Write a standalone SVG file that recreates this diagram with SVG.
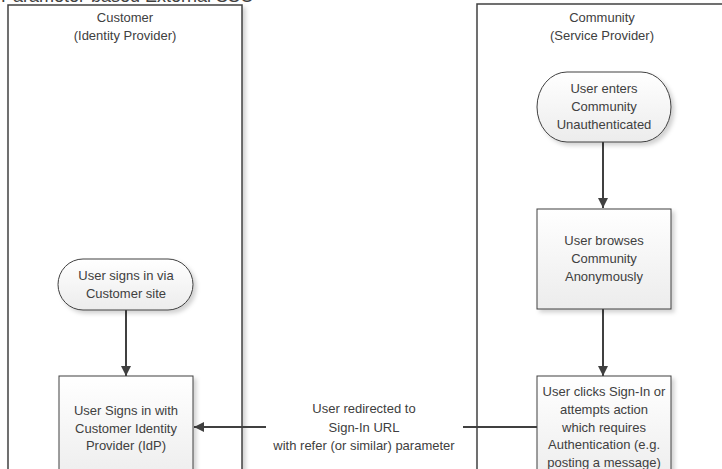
<svg xmlns="http://www.w3.org/2000/svg" width="722" height="469" viewBox="0 0 722 469">
<style>
text{font-family:"Liberation Sans",Arial,sans-serif;font-size:13px;fill:#404040;text-anchor:middle}
.lane{fill:#fff;stroke:#404040;stroke-width:1.5;filter:url(#sh)}
.node{fill:url(#g);stroke:#404040;stroke-width:1;filter:url(#sh)}
.conn{stroke:#404040;stroke-width:2;fill:none}
</style>
<defs>
<linearGradient id="g" x1="0" y1="0" x2="0" y2="1"><stop offset="0" stop-color="#ffffff"/><stop offset="1" stop-color="#ececec"/></linearGradient>
<filter id="sh" x="-10%" y="-10%" width="130%" height="130%"><feDropShadow dx="3" dy="3" stdDeviation="2" flood-color="#000" flood-opacity="0.18"/></filter>
<marker id="ah" viewBox="0 0 10 10" refX="10" refY="5" markerWidth="5" markerHeight="5" orient="auto" markerUnits="strokeWidth"><path d="M0,0 L10,5 L0,10 z" fill="#404040"/></marker>
</defs>
<text x="1" y="2" style="font-size:18px;text-anchor:start">Parameter-based External SSO</text>
<g id="lane-customer">
<rect class="lane" x="8" y="5" width="234" height="480"/>
<text x="125" y="22">Customer</text>
<text x="125" y="40">(Identity Provider)</text>
</g>
<g id="lane-community">
<rect class="lane" x="477" y="4" width="260" height="480"/>
<text x="602" y="22">Community</text>
<text x="602" y="40">(Service Provider)</text>
</g>
<g id="connectors">
<line class="conn" x1="603" y1="142" x2="603" y2="208" marker-end="url(#ah)"/>
<line class="conn" x1="603" y1="309" x2="603" y2="376" marker-end="url(#ah)"/>
<line class="conn" x1="126" y1="310" x2="126" y2="376" marker-end="url(#ah)"/>
<polyline class="conn" points="537,427 463,427"/>
<line class="conn" x1="266" y1="427" x2="194" y2="427" marker-end="url(#ah)"/>
<text x="364" y="413">User redirected to</text>
<text x="364" y="432">Sign-In URL</text>
<text x="364" y="450">with refer (or similar) parameter</text>
</g>
<g id="n-enter">
<rect class="node" x="537" y="72" width="134" height="70" rx="30" ry="35"/>
<text x="604" y="93">User enters</text>
<text x="604" y="111">Community</text>
<text x="604" y="129">Unauthenticated</text>
</g>
<g id="n-browse">
<rect class="node" x="537" y="209" width="134" height="100"/>
<text x="604" y="245">User browses</text>
<text x="604" y="263">Community</text>
<text x="604" y="281">Anonymously</text>
</g>
<g id="n-click">
<rect class="node" x="537" y="376" width="134" height="110"/>
<text x="604" y="396">User clicks Sign-In or</text>
<text x="604" y="414">attempts action</text>
<text x="604" y="432">which requires</text>
<text x="604" y="449">Authentication (e.g.</text>
<text x="604" y="467">posting a message)</text>
</g>
<g id="n-signs-via">
<rect class="node" x="58" y="259" width="135" height="51" rx="25" ry="25.5"/>
<text x="126" y="280">User signs in via</text>
<text x="126" y="298">Customer site</text>
</g>
<g id="n-idp">
<rect class="node" x="59" y="376" width="134" height="110"/>
<text x="126" y="415">User Signs in with</text>
<text x="126" y="433">Customer Identity</text>
<text x="126" y="450">Provider (IdP)</text>
</g>
</svg>
